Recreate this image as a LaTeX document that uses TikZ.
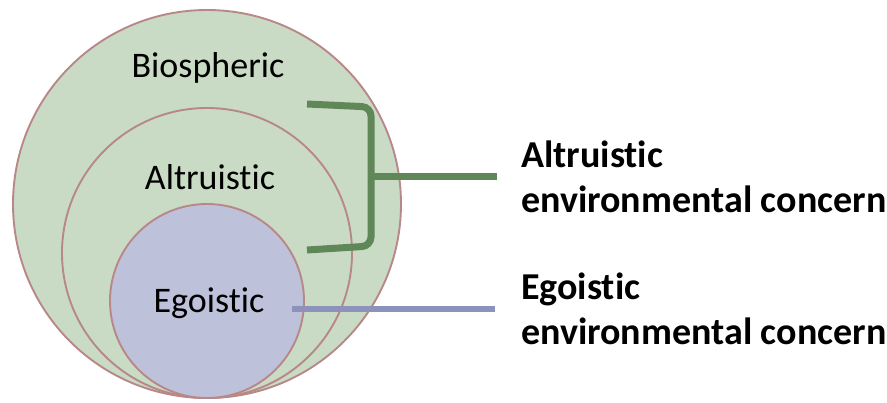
\documentclass[tikz,border=0pt]{standalone}
\usepackage{fontspec}
\setmainfont{Carlito}[Ligatures=NoCommon]
\usetikzlibrary{calc, positioning}
\definecolor{ringfill}{RGB}{202,219,197}
\definecolor{egofill}{RGB}{190,193,218}
\definecolor{ringline}{RGB}{184,136,136}
\definecolor{altgreen}{RGB}{96,135,87}
\definecolor{egoblue}{RGB}{140,146,186}

\begin{document}
\begin{tikzpicture}[x=1pt, y=-1pt, every node/.style={inner sep=0pt}]
  \tikzset{ring/.style={circle, draw=ringline, line width=1.9pt, fill=ringfill},
    ringtext/.style={font=\fontsize{36}{43}\selectfont, anchor=base},
    sidetext/.style={font=\fontsize{38}{45}\selectfont\bfseries, align=left, anchor=west}}
  \useasboundingbox (0,0) rectangle (887,403);

  % nested circles, all touching at the bottom
  \node[ring, minimum size=388pt] (bio) at (207,204) {};
  \node[ring, minimum size=290pt] (alt) at (207,253) {};
  \node[ring, fill=egofill, minimum size=194pt] (ego) at (207,301) {};

  \node[ringtext] (biotext) at (208,78) {Biospheric};
  \node[ringtext] (alttext) at (210,190) {Altruistic};
  \node[ringtext] (egotext) at (209,313) {Egoistic};

  \node[sidetext] (altlab) at (521,177) {Altruistic\\environmental concern};
  \node[sidetext] (egolab) at (521,309) {Egoistic\\environmental concern};

  % bracket and leaders
  \coordinate (brtop) at (307,104);
  \coordinate (brbot) at (307,250);
  \coordinate (brmid) at (371,177);
  \coordinate (egoend) at (292,309);
  \draw[altgreen, line width=7pt, rounded corners=9pt]
    (brtop) -- (371,107) -- (371,246) -- (brbot);
  \draw[altgreen, line width=7pt] (brmid) -- (altlab.west -| 497,0);
  \draw[egoblue, line width=6pt] (egoend) -- (egolab.west -| 495,0);
\end{tikzpicture}
\end{document}
